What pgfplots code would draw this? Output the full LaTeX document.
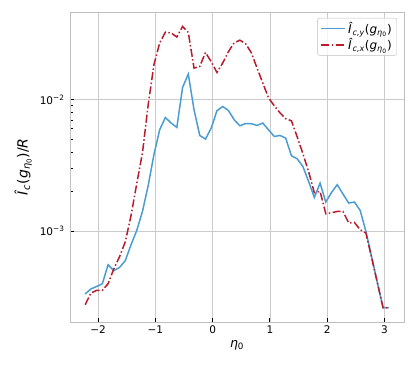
\documentclass[border=0pt]{standalone}
\usepackage{fontspec}
\setmainfont{DejaVu Sans}
\usepackage{pgfplots}
\usepackage{pgfplotstable}
\pgfplotsset{compat=1.18}

\definecolor{cblue}{HTML}{4B9CD3}
\definecolor{cred}{HTML}{B81C2C}
\definecolor{spine}{HTML}{BFBFBF}
\definecolor{gridc}{HTML}{CBCBCB}

% italic DejaVu text for I_c(g_eta0)
\newcommand{\Ic}[1]{\textit{Î}\textsubscript{\textit{#1}}(\textit{g}\textsubscript{\textit{η}\textsubscript{0}})}

% eta0, I_cy, I_cx
\pgfplotstableread{
eta     Iy        Ix
-2.225  3.33e-4   2.76e-4
-2.125  3.64e-4   3.39e-4
-2.025  3.80e-4   3.55e-4
-1.925  3.99e-4   3.55e-4
-1.825  5.56e-4   3.99e-4
-1.725  5.01e-4   5.18e-4
-1.625  5.31e-4   6.40e-4
-1.525  5.97e-4   8.32e-4
-1.425  7.89e-4   1.312e-3
-1.325  1.014e-3  2.30e-3
-1.225  1.414e-3  3.95e-3
-1.125  2.23e-3   9.16e-3
-1.025  3.82e-3   1.846e-2
-0.925  5.91e-3   2.70e-2
-0.825  7.33e-3   3.27e-2
-0.725  6.65e-3   3.22e-2
-0.625  6.16e-3   3.00e-2
-0.525  1.240e-2  3.61e-2
-0.425  1.568e-2  3.25e-2
-0.325  8.39e-3   1.742e-2
-0.225  5.35e-3   1.792e-2
-0.125  5.02e-3   2.29e-2
-0.025  6.09e-3   1.945e-2
 0.075  8.25e-3   1.613e-2
 0.175  8.89e-3   1.902e-2
 0.275  8.29e-3   2.32e-2
 0.375  7.05e-3   2.71e-2
 0.475  6.34e-3   2.84e-2
 0.575  6.60e-3   2.67e-2
 0.675  6.57e-3   2.28e-2
 0.775  6.38e-3   1.742e-2
 0.875  6.65e-3   1.340e-2
 0.975  5.91e-3   1.036e-2
 1.075  5.26e-3   9.00e-3
 1.175  5.35e-3   7.96e-3
 1.275  5.11e-3   7.17e-3
 1.375  3.75e-3   6.92e-3
 1.475  3.56e-3   5.23e-3
 1.575  3.11e-3   3.89e-3
 1.675  2.39e-3   2.84e-3
 1.775  1.807e-3  1.963e-3
 1.875  2.32e-3   2.01e-3
 1.975  1.668e-3  1.358e-3
 2.075  1.973e-3  1.382e-3
 2.175  2.26e-3   1.414e-3
 2.275  1.918e-3  1.414e-3
 2.375  1.639e-3  1.155e-3
 2.475  1.668e-3  1.167e-3
 2.575  1.439e-3  1.026e-3
 2.675  9.97e-4   9.69e-4
 2.775  6.40e-4   6.29e-4
 2.875  4.06e-4   4.06e-4
 2.975  2.62e-4   2.61e-4
 3.075  2.62e-4   2.61e-4
}\data

\begin{document}
\begin{tikzpicture}
  \begin{axis}[
    width=334pt, height=310pt, scale only axis,
    ymode=log,
    xmin=-2.49, xmax=3.34,
    ymin=2.04e-4, ymax=4.65e-2,
    xtick={-2,-1,0,1,2,3},
    xticklabels={−2,−1,0,1,2,3},
    ytick={1e-3,1e-2},
    yticklabels={10\textsuperscript{−3},10\textsuperscript{−2}},
    grid=major,
    major grid style={gridc, line width=0.8pt},
    axis line style={spine, line width=0.8pt},
    tick align=inside,
    xtick pos=left, ytick pos=left,
    major tick length=4.5pt, minor tick length=2.7pt,
    tick style={black, line width=1pt},
    tick label style={font=\fontsize{10.5}{12}\selectfont},
    yticklabel style={xshift=-2pt},
    xlabel style={font=\fontsize{12.5}{14}\selectfont},
    ylabel style={font=\fontsize{14}{16}\selectfont},
    xlabel={\textit{η}\textsubscript{0}},
    ylabel={\textit{Î}\textsubscript{\textit{c}}(\textit{g}\textsubscript{\textit{η}\textsubscript{0}})/\textit{R}},
    ylabel shift=1pt,
    legend cell align=left,
    legend style={at={(0.979,0.981)}, anchor=north east,
      draw=spine, rounded corners=2pt, fill=white, fill opacity=0.8,
      text opacity=1, font=\fontsize{12}{13}\selectfont,
      inner xsep=3pt, inner ysep=2pt, row sep=0pt},
    legend image code/.code={\draw[#1] (0pt,0pt) -- (24pt,0pt);},
  ]
    \addplot[cblue, line width=1.5pt] table[x=eta, y=Iy] {\data};
    \addlegendentry{\Ic{c,y}}
    \addplot[cred, line width=1.5pt,
      dash pattern=on 8pt off 2.4pt on 1.5pt off 2.4pt] table[x=eta, y=Ix] {\data};
    \addlegendentry{\Ic{c,x}}
  \end{axis}
  \pgfresetboundingbox
  \path[use as bounding box] (-70pt,-47pt) rectangle (346pt,322pt);
\end{tikzpicture}
\end{document}
